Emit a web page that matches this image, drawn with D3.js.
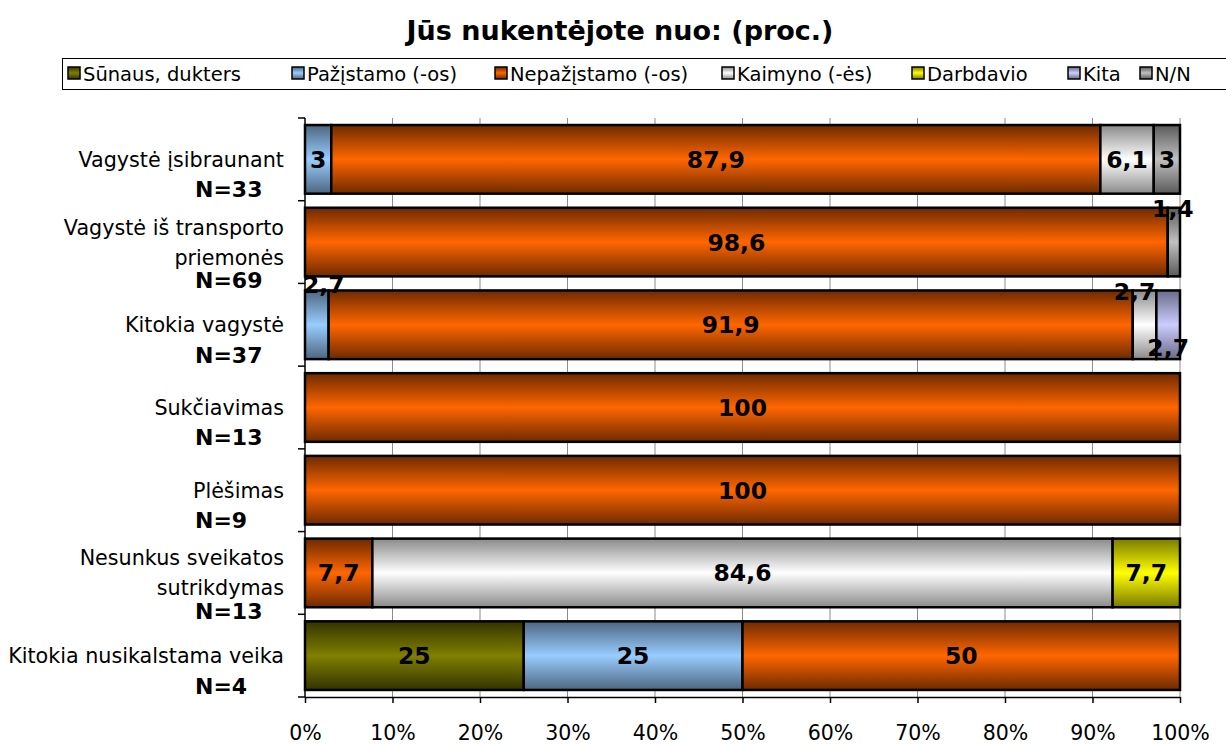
<!DOCTYPE html>
<html><head><meta charset="utf-8">
<script src="https://cdn.jsdelivr.net/npm/d3@7"></script>
<style>body{margin:0;background:#fff}svg{display:block}</style>
</head><body><svg id="c" width="1226" height="745"></svg>
<script>
// ---- data ----
const categories = ["Vagystė įsibraunant","Vagystė iš transporto\npriemonės","Kitokia vagystė","Sukčiavimas","Plėšimas","Nesunkus sveikatos\nsutrikdymas","Kitokia nusikalstama veika"];
const sampleN = [33,69,37,13,9,13,4];
const seriesNames = ["Sūnaus, dukters","Pažįstamo (-os)","Nepažįstamo (-os)","Kaimyno (-ės)","Darbdavio","Kita","N/N"];
const sunaus      = [0,0,0,0,0,0,25];
const pazistamo   = [3,0,2.7,0,0,0,25];
const nepazistamo = [87.9,98.6,91.9,100,100,7.7,50];
const kaimyno     = [6.1,0,2.7,0,0,84.6,0];
const darbdavio   = [0,0,0,0,0,7.7,0];
const kita        = [0,0,2.7,0,0,0,0];
const nn          = [3,1.4,0,0,0,0,0];
const xTicks = [0,10,20,30,40,50,60,70,80,90,100];
const title = "Jūs nukentėjote nuo: (proc.)";

(function(){
// ---- style ----
const colors = ["#808000","#99CCFF","#FF6600","#FFFFFF","#FFFF00","#CCCCFF","#C0C0C0"];
const edgeColors = ["#333300","#4d6680","#6e2a00","#8a8a8a","#7a7a00","#6a6a88","#5a5a5a"];
// manual nudges for crowded labels: key "row-series" -> [dx, dy]
const labelNudge = {"1-6":[-1,-34],"2-1":[7,-40],"2-3":[-10,-33],"2-5":[0,23]};

const seriesValues = [sunaus,pazistamo,nepazistamo,kaimyno,darbdavio,kita,nn];
const rows = categories.map((c,i)=>{const o={cat:c,i};seriesNames.forEach((s,j)=>o[s]=seriesValues[j][i]);return o;});
const stacked = d3.stack().keys(seriesNames)(rows);

const svg = d3.select("#c");
const FONT = "DejaVu Sans";
const pL=305, pR=1180, pT=118, pB=697;
const x = d3.scaleLinear().domain([0,100]).range([pL,pR]);
const y = d3.scaleBand().domain(categories).range([pT,pB]).paddingInner(0.17).paddingOuter(0.085);

// gradients
const defs = svg.append("defs");
seriesNames.forEach((s,j)=>{
  const g = defs.append("linearGradient").attr("id","g"+j).attr("x1",0).attr("y1",0).attr("x2",0).attr("y2",1);
  g.append("stop").attr("offset","0%").attr("stop-color",edgeColors[j]);
  g.append("stop").attr("offset","50%").attr("stop-color",colors[j]);
  g.append("stop").attr("offset","100%").attr("stop-color",edgeColors[j]);
});

// title
svg.append("text").attr("x",620).attr("y",40).attr("text-anchor","middle")
  .attr("font-family",FONT).attr("font-weight","bold").attr("font-size",27).text(title);

// legend
const legX=[68,292,495,722,912,1068,1140];
svg.append("rect").attr("x",62.5).attr("y",58.5).attr("width",1180).attr("height",31)
  .attr("fill","#fff").attr("stroke","#000").attr("stroke-width",1);
seriesNames.forEach((s,j)=>{
  svg.append("rect").attr("x",legX[j]).attr("y",67).attr("width",12).attr("height",12)
    .attr("fill","url(#g"+j+")").attr("stroke","#000").attr("stroke-width",1.5);
  svg.append("text").attr("x",legX[j]+15).attr("y",80.5).attr("font-family",FONT)
    .attr("font-size",19.5).attr("fill","#000").text(s);
});

// gridlines
svg.append("g").selectAll("line").data(xTicks.slice(1)).join("line")
  .attr("x1",d=>x(d)).attr("x2",d=>x(d)).attr("y1",pT).attr("y2",pB)
  .attr("stroke","#8c8c8c").attr("stroke-width",1);

// bars
const bars = svg.append("g");
stacked.forEach((layer,j)=>{
  bars.selectAll(null).data(layer.filter(d=>d[1]-d[0]>0)).join("rect")
    .attr("x",d=>x(d[0])).attr("y",d=>y(d.data.cat))
    .attr("width",d=>x(d[1])-x(d[0])).attr("height",y.bandwidth())
    .attr("fill","url(#g"+j+")").attr("stroke","#000").attr("stroke-width",2.5);
});

// bar labels
stacked.forEach((layer,j)=>{
  layer.forEach(d=>{
    const v=d[1]-d[0]; if(v<=0) return;
    const nudge = labelNudge[d.data.i+"-"+j]||[0,0];
    svg.append("text").attr("x",x((d[0]+d[1])/2)+nudge[0])
      .attr("y",y(d.data.cat)+y.bandwidth()/2+nudge[1]).attr("dy","0.36em")
      .attr("text-anchor","middle").attr("font-family",FONT).attr("font-weight","bold")
      .attr("font-size",23.5).attr("fill","#000").text(String(+v.toFixed(1)).replace(".",","));
  });
});

// x axis
const xa = svg.append("g").attr("transform",`translate(0,${pB})`)
  .call(d3.axisBottom(x).tickValues(xTicks).tickFormat(d=>d+"%").tickSize(6).tickSizeOuter(0));
xa.select(".domain").attr("stroke","#000").attr("stroke-width",1.5);
xa.selectAll(".tick line").attr("stroke","#000").attr("stroke-width",1.5);
xa.selectAll("text").attr("font-family",FONT).attr("font-size",20.5).attr("fill","#000").attr("y",43).attr("dy",0);

// y axis line + ticks at band boundaries
svg.append("line").attr("x1",pL).attr("x2",pL).attr("y1",pT).attr("y2",pB).attr("stroke","#000").attr("stroke-width",1.5);
const bounds = d3.range(categories.length+1).map(k=>pT+k*y.step());
svg.append("g").selectAll("line").data(bounds).join("line")
  .attr("x1",pL-7).attr("x2",pL).attr("y1",d=>d).attr("y2",d=>d).attr("stroke","#000").attr("stroke-width",1.5);

// category labels
categories.forEach((c,i)=>{
  const cy = y(c)+y.bandwidth()/2;
  const lines = c.split("\n");
  const lh = 30;
  const start = lines.length===1 ? cy : cy-15;
  lines.forEach((ln,k)=>{
    svg.append("text").attr("x",284).attr("y",start+k*lh).attr("dy","0.36em").attr("text-anchor","end")
      .attr("font-family",FONT).attr("font-size",20.7).attr("fill","#000").text(ln);
  });
  const ny = lines.length===1 ? cy+30 : cy+38;
  svg.append("text").attr("x",195).attr("y",ny).attr("dy","0.36em")
    .attr("font-family",FONT).attr("font-weight","bold").attr("font-size",22).attr("fill","#000").text("N="+sampleN[i]);
});
})();
</script></body></html>
